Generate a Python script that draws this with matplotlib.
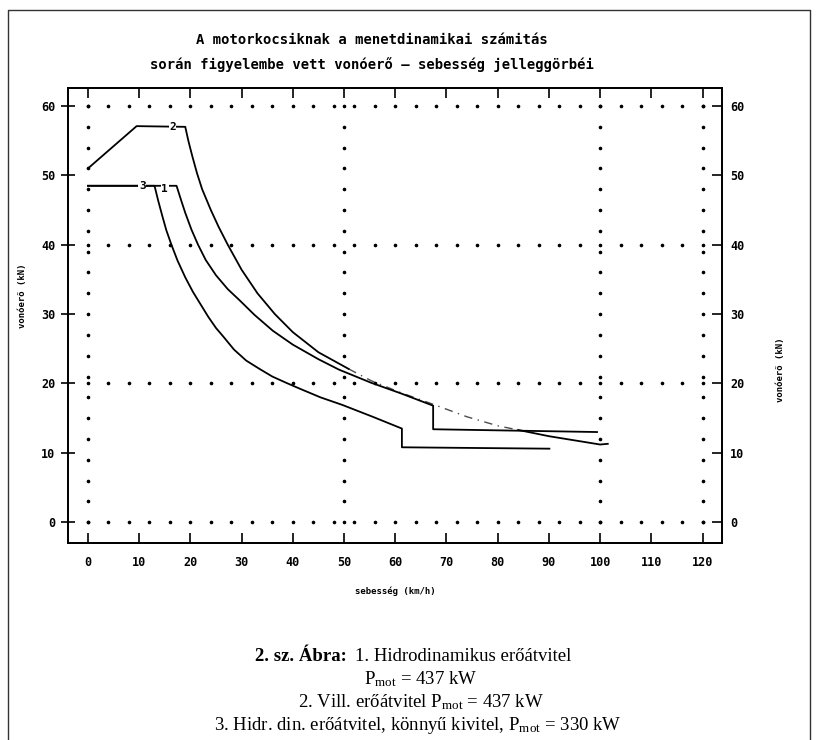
import numpy as np
import matplotlib
matplotlib.use('Agg')
import matplotlib.pyplot as plt
from matplotlib.lines import Line2D

## vonóerő - sebesség jelleggörbék (motorkocsik)

# 1. hidrodinamikus erőátvitel, 437 kW
v1 = [0, 17.3, 18.2, 19.0, 20.2, 21.5, 23.0, 25.0, 27.3, 29.6, 32.5, 36.1, 40.0,
      45.0, 49.0, 55.3, 61.0, 67.4, 67.4, 99.4]
f1 = [48.5, 48.5, 46.4, 44.6, 42.2, 40.0, 37.8, 35.6, 33.6, 32.0, 29.9, 27.6, 25.6,
      23.5, 22.0, 20.1, 18.6, 16.8, 13.4, 13.0]

# 2. villamos erőátvitel, 437 kW
v2 = [0, 9.5, 19.0, 19.6, 20.4, 21.3, 22.3, 24.0, 25.5, 27.3, 30.0, 33.1, 36.5, 40.0,
      45.0, 50.9, 55.3, 61.0, 67.4, 74.0, 80.0, 84.0, 90.0, 95.0, 100.0, 101.5]
f2 = [51.0, 57.1, 57.0, 55.0, 52.7, 50.3, 48.0, 45.0, 42.6, 40.0, 36.4, 33.0, 30.0, 27.4,
      24.5, 22.1, 20.4, 18.7, 17.0, 15.2, 13.9, 13.3, 12.4, 11.8, 11.2, 11.3]
dashed_from, dashed_to = 50.9, 84.0   # ahol a 2. görbe szaggatott

# 3. hidr. din. erőátvitel, könnyű kivitel, 330 kW
v3 = [0, 13.0, 13.7, 14.5, 15.3, 16.3, 17.5, 19.0, 20.5, 22.0, 23.5, 25.0, 26.5, 28.5,
      30.9, 33.5, 36.0, 38.7, 41.2, 45.4, 49.7, 55.6, 61.3, 61.3, 90.1]
f3 = [48.5, 48.5, 46.4, 44.2, 42.1, 40.0, 37.7, 35.3, 33.2, 31.4, 29.6, 28.0, 26.7, 24.9,
      23.3, 22.1, 21.0, 20.1, 19.3, 18.0, 16.9, 15.2, 13.5, 10.8, 10.6]

curve_labels = ['1', '2', '3']
label_pos = [(15.0, 48.0), (16.5, 57.0), (10.6, 48.5)]

x_ticks = list(range(0, 121, 10))
y_ticks = list(range(0, 61, 10))
grid_x = [0, 50, 100, 120]
grid_y = [0, 20, 40, 60]

title = 'A motorkocsiknak a menetdinamikai számitás\nsorán figyelembe vett vonóerő – sebesség jelleggörbéi'
mono = 'DejaVu Sans Mono'
serif = 'Liberation Serif'

plt.rcParams['mathtext.fontset'] = 'custom'
plt.rcParams['mathtext.rm'] = serif
plt.rcParams['mathtext.it'] = serif + ':italic'

fig = plt.figure(figsize=(8.16, 7.4), dpi=100, facecolor='white')
ax = fig.add_axes([0.0833, 0.2662, 0.8015, 0.6149])

# dotted grid
for gx in grid_x:
    yy = np.arange(0, 61, 3)
    ax.plot(np.full(len(yy), gx), yy, ls='none', marker='o', ms=1.6, color='black')
for gy in grid_y:
    xx = np.arange(0, 121, 4)
    ax.plot(xx, np.full(len(xx), gy), ls='none', marker='o', ms=1.6, color='black')

lw = 1.3
ax.plot(v1, f1, color='black', lw=lw)
ax.plot(v3, f3, color='black', lw=lw)

v2a = np.array(v2)
f2a = np.array(f2)
solid1 = v2a <= dashed_from
mid = (v2a >= dashed_from) & (v2a <= dashed_to)
solid2 = v2a >= dashed_to
ax.plot(v2a[solid1], f2a[solid1], color='black', lw=lw)
ax.plot(v2a[mid], f2a[mid], color='black', lw=1.0, ls=(0, (6, 4, 1, 4)), alpha=0.7)
ax.plot(v2a[solid2], f2a[solid2], color='black', lw=lw)

for lab, (lx, ly) in zip(curve_labels, label_pos):
    ax.text(lx, ly, lab, family=mono, weight='bold', fontsize=8, ha='center', va='center',
            bbox=dict(facecolor='white', edgecolor='none', pad=0.3))

ax.set_xlim(-3.9, 123.8)
ax.set_ylim(-3.0, 62.6)

ax.set_xticks(x_ticks)
ax.set_yticks(y_ticks)
ax.tick_params(axis='x', which='both', direction='in', length=7, width=1.2,
               top=True, bottom=True, pad=9, labelsize=8.5)
ax.tick_params(axis='y', which='both', direction='inout', length=10, width=1.2,
               left=True, right=False, pad=4, labelsize=8.5)
for lab in ax.get_xticklabels() + ax.get_yticklabels():
    lab.set_family(mono)
    lab.set_weight('bold')

ax2 = ax.twinx()
ax2.set_ylim(ax.get_ylim())
ax2.set_yticks(y_ticks)
ax2.tick_params(axis='y', direction='in', length=7, width=1.2, pad=6, labelsize=8.5)
for lab in ax2.get_yticklabels():
    lab.set_family(mono)
    lab.set_weight('bold')

for a in (ax, ax2):
    for s in a.spines.values():
        s.set_linewidth(1.3)

ax.set_xlabel('sebesség (km/h)', family=mono, fontsize=6.5, weight='bold', labelpad=13)
fig.text(0.027, 0.60, 'vonóerő (kN)', rotation=90, family=mono, fontsize=6.5,
         weight='bold', ha='center', va='center')
fig.text(0.956, 0.50, 'vonóerő (kN)', rotation=90, family=mono, fontsize=6.5,
         weight='bold', ha='center', va='center')

fig.text(0.456, 0.929, title, family=mono, weight='bold', fontsize=10,
         ha='center', va='center', linespacing=1.9)

# caption
cap = 13.5
fig.text(0.425, 0.113, '2. sz. Ábra:', family=serif, weight='bold', fontsize=cap,
         ha='right', va='center')
fig.text(0.435, 0.113, '1. Hidrodinamikus erőátvitel', family=serif, fontsize=cap,
         ha='left', va='center')
fig.text(0.516, 0.082, r'P$_{\mathrm{mot}}$ = 437 kW', family=serif, fontsize=cap,
         ha='center', va='center')
fig.text(0.516, 0.051, r'2. Vill. erőátvitel P$_{\mathrm{mot}}$ = 437 kW', family=serif,
         fontsize=cap, ha='center', va='center')
fig.text(0.512, 0.019, r'3. Hidr. din. erőátvitel, könnyű kivitel, P$_{\mathrm{mot}}$ = 330 kW',
         family=serif, fontsize=cap, ha='center', va='center')

# scanned page frame
x0, x1, ytop = 8 / 816, 810 / 816, 1 - 10 / 740
fig.add_artist(Line2D([x0, x0, x1, x1], [0, ytop, ytop, 0], transform=fig.transFigure,
                      color='#333333', lw=1.0))

fig.savefig('out.png', dpi=100, facecolor='white')
